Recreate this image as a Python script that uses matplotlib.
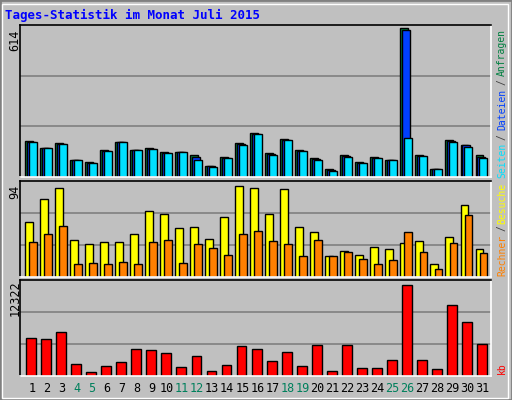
import matplotlib
matplotlib.use("Agg")
import matplotlib.pyplot as plt
from matplotlib.patches import Rectangle

days = list(range(1, 32))
anfragen = [148,118,139,72,60,110,143,110,120,102,102,89,47,81,139,181,98,156,110,77,31,89,60,81,72,614,89,35,152,131,89]
dateien  = [145,118,137,72,58,108,143,110,117,100,102,82,45,79,135,179,93,154,108,75,29,85,58,79,72,605,87,33,148,131,83]
seiten   = [143,118,135,72,56,106,143,110,114,97,102,68,43,77,131,177,89,152,106,72,26,81,56,77,72,160,85,31,143,123,77]
besuche  = [57,81,92,38,34,36,36,45,69,65,51,52,39,62,94,92,65,91,52,47,22,27,23,31,29,35,37,14,41,75,29]
rechner  = [36,45,53,14,15,13,16,13,36,38,15,34,30,23,45,48,37,34,22,38,22,26,19,13,18,47,26,8,35,64,25]
kbytes   = [5145,5010,5957,1625,541,1354,1895,3656,3520,3114,1219,2708,677,1489,4062,3656,2031,3250,1354,4197,677,4197,1083,1083,2166,12322,2166,948,9614,7312,4333]
weekend = [4,5,11,12,18,19,25,26]
title = "Tages-Statistik im Monat Juli 2015"

BG = "#C0C0C0"
C_HIT, C_FILE, C_PAGE = "#008040", "#0040FF", "#00E0FF"
C_VIS, C_SITE, C_KB = "#FFFF00", "#FF8000", "#FF0000"
FONT = "DejaVu Sans Mono"

W, H = 512, 400
fig = plt.figure(figsize=(5.12, 4.0), dpi=100, facecolor=BG)

fig.patches.append(Rectangle((0, 0), 1, 1, transform=fig.transFigure, fill=False, edgecolor="#808080", lw=2))
fig.patches.append(Rectangle((2/W, 2/H), 1-6/W, 1-6/H, transform=fig.transFigure, fill=False, edgecolor="white", lw=1))

def ax_at(top, bottom):
    a = fig.add_axes([20/W, 1-bottom/H, 471/W, (bottom-top)/H])
    a.set_facecolor(BG)
    a.set_xlim(0, 31.36)
    a.set_xticks([]); a.set_yticks([])
    for s in ("left", "top"):
        a.spines[s].set_color("black")
    for s in ("right", "bottom"):
        a.spines[s].set_color("white")
    for s in a.spines.values():
        s.set_linewidth(1.2)
    return a

def grid(a, ymax):
    for f in (1/3, 2/3):
        a.axhline(ymax*f, color="#808080", lw=1.2, zorder=0)

x0 = [d-1 for d in days]
ek = dict(edgecolor="black", linewidth=1, align="edge")

a1 = ax_at(25, 177)
a1.set_ylim(0, 614*1.02)
grid(a1, 614*1.02)
a1.bar([x+0.33 for x in x0], anfragen, 0.53, color=C_HIT, **ek)
a1.bar([x+0.46 for x in x0], dateien, 0.53, color=C_FILE, **ek)
a1.bar([x+0.59 for x in x0], seiten, 0.53, color=C_PAGE, **ek)

a2 = ax_at(181, 277)
a2.set_ylim(0, 94*1.06)
grid(a2, 94*1.06)
a2.bar([x+0.33 for x in x0], besuche, 0.53, color=C_VIS, **ek)
a2.bar([x+0.6 for x in x0], rechner, 0.5, color=C_SITE, **ek)

a3 = ax_at(280, 376)
a3.set_ylim(0, 12322*1.06)
grid(a3, 12322*1.06)
a3.bar([x+0.42 for x in x0], kbytes, 0.66, color=C_KB, **ek)
for d in days:
    a3.text(d-1+0.8, -0.13, str(d), transform=a3.get_xaxis_transform(), ha="center", va="center",
            family=FONT, fontsize=8.5, color="#00805C" if d in weekend else "black")

fig.text(5/W, 1-15/H, title, family=FONT, weight="bold", fontsize=9, color="#0000FF", va="center", ha="left")
for lab, yc in (("614", 40), ("94", 192), ("12322", 298)):
    fig.text(15/W, 1-yc/H, lab, family=FONT, fontsize=8.5, rotation=90, ha="center", va="center")

def rlabel(txt, ycen, color):
    fig.text(502/W, 1-ycen/H, txt, family=FONT, fontsize=7, rotation=90, ha="center", va="center", color=color)

rlabel("Anfragen", 52, C_HIT)
rlabel("/", 82, "#404040")
rlabel("Dateien", 109, C_FILE)
rlabel("/", 137, "#404040")
rlabel("Seiten", 160, C_PAGE)
rlabel("Besuche", 203, C_VIS)
rlabel("/", 228, "#404040")
rlabel("Rechner", 255, C_SITE)
rlabel("kb", 368, C_KB)

fig.savefig("out.png", dpi=100, facecolor=BG)
